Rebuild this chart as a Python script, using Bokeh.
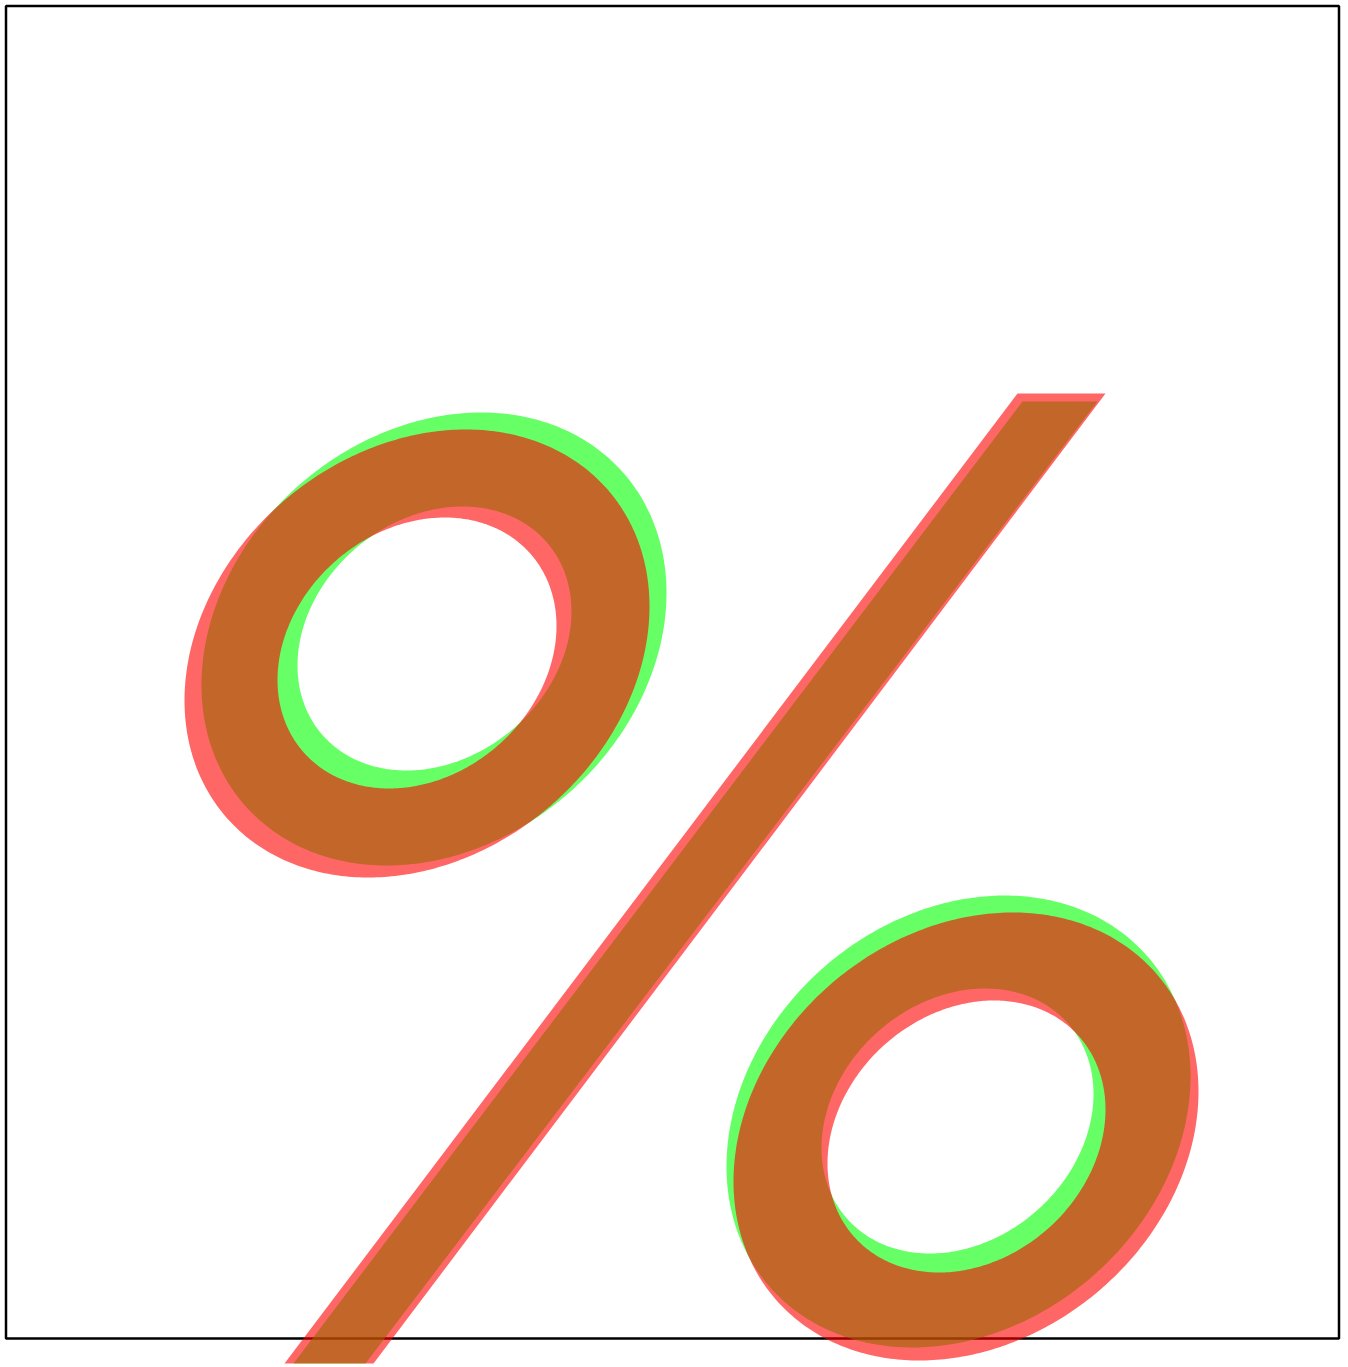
import numpy as np
from bokeh.plotting import figure
from bokeh.models import Range1d, BoxAnnotation
from bokeh.embed import file_html
from bokeh.resources import INLINE

# Two overlapping "%" shapes (green drawn first, red on top), alpha 0.6
names = ["green", "red"]
colors = ["#00ff00", "#ff0000"]

# ring ellipses: [upper outer, upper inner, lower outer, lower inner]
# cx, cy = centre; w, h = half extents; k = vertical offset of the rightmost point
green_cx = [433.5, 434.0, 958.0, 957.0]
green_cy = [638.5, 638.0, 1121.0, 1120.5]
green_w = [232.5, 137.0, 232.0, 136.0]
green_h = [226.5, 132.0, 226.0, 132.5]
green_k = [-46.0, -27.0, -45.0, -27.0]

red_cx = [416.5, 416.5, 965.5, 966.0]
red_cy = [653.0, 652.5, 1136.0, 1136.0]
red_w = [232.5, 139.5, 232.5, 139.0]
red_h = [224.0, 135.5, 224.0, 136.0]
red_k = [-47.0, -27.0, -45.0, -27.0]

# slash corners
green_slash_x = [293, 365, 1097, 1022]
green_slash_y = [1363, 1363, 401, 401]
red_slash_x = [284, 373, 1105, 1017]
red_slash_y = [1363, 1363, 393, 393]

# plot frame (outline)
frame_box = [5.5, 1338.5, 5.5, 1338.0]  # left, right, top, bottom

X0, Y0 = 0, 0
W, H = 1348, 1367

p = figure(width=W, height=H, x_range=Range1d(X0, X0 + W), y_range=Range1d(Y0 + H, Y0),
           min_border=0, toolbar_location=None, output_backend="svg",
           x_axis_location=None, y_axis_location=None,
           outline_line_color=None, background_fill_color="white", border_fill_color="white")
p.grid.grid_line_color = None

p.add_layout(BoxAnnotation(left=frame_box[0], right=frame_box[1], top=frame_box[2], bottom=frame_box[3],
                           fill_alpha=0, line_color="black", line_alpha=1.0, line_width=2.5, level="underlay"))

t = np.linspace(0, 2 * np.pi, 400, endpoint=False)

def ellipse(cx, cy, w, h, k, reverse=False):
    s = np.sqrt(max(h * h - k * k, 1.0))
    x = cx + w * np.cos(t)
    y = cy + k * np.cos(t) + s * np.sin(t)
    if reverse:
        x, y = x[::-1], y[::-1]
    return list(x), list(y)

def shape(cx, cy, w, h, k, sx, sy):
    xs, ys = [], []
    for i in (0, 2):
        ox, oy = ellipse(cx[i], cy[i], w[i], h[i], k[i])
        ix, iy = ellipse(cx[i + 1], cy[i + 1], w[i + 1], h[i + 1], k[i + 1], reverse=True)
        xs.append([ox, ix])
        ys.append([oy, iy])
    xs.append([list(sx)])
    ys.append([list(sy)])
    return [xs], [ys]

gx, gy = shape(green_cx, green_cy, green_w, green_h, green_k, green_slash_x, green_slash_y)
rx, ry = shape(red_cx, red_cy, red_w, red_h, red_k, red_slash_x, red_slash_y)

p.multi_polygons(xs=gx, ys=gy, fill_color=colors[0], fill_alpha=0.6, line_color=None)
p.multi_polygons(xs=rx, ys=ry, fill_color=colors[1], fill_alpha=0.6, line_color=None)

open("out.html", "w").write(file_html(p, INLINE))
